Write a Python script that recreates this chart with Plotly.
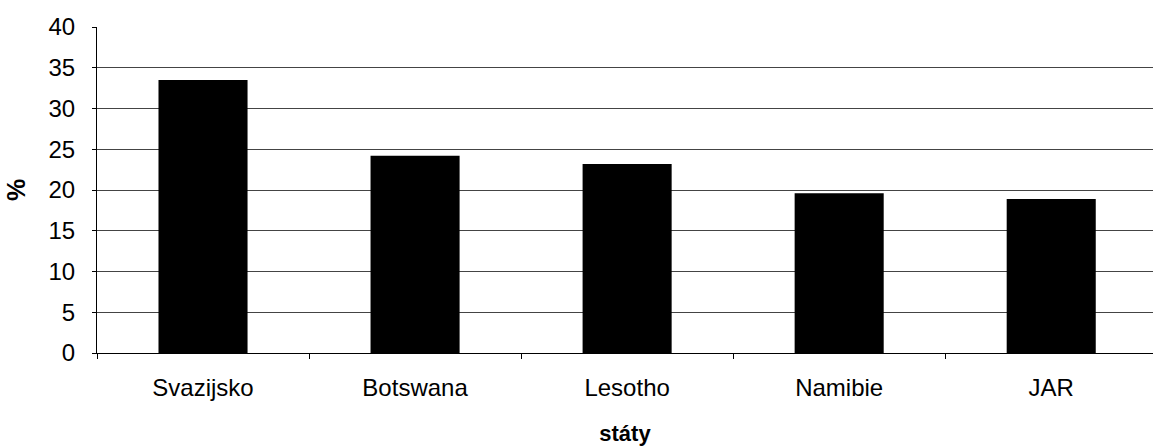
import plotly.graph_objects as go

categories = ["Svazijsko", "Botswana", "Lesotho", "Namibie", "JAR"]
values = [33.5, 24.2, 23.2, 19.6, 18.9]
y_ticks = [0, 5, 10, 15, 20, 25, 30, 35, 40]

fig = go.Figure(go.Bar(x=categories, y=values, marker=dict(color="black", line=dict(width=0))))

font = dict(family="Liberation Sans, Arial, sans-serif", size=24, color="black")

fig.update_layout(
    width=1153, height=447,
    margin=dict(l=97, r=0, t=27, b=94),
    paper_bgcolor="white", plot_bgcolor="white",
    bargap=0.58,
    font=font,
    showlegend=False,
    xaxis=dict(
        range=[-0.5, 4.48],
        showline=True, linecolor="black", linewidth=1,
        ticks="outside", tickson="boundaries", ticklen=5, tickcolor="black",
        showgrid=False,
        tickfont=dict(size=24),
        ticklabelstandoff=13,
        title=dict(text="<b>státy</b>", font=dict(size=22), standoff=25),
    ),
    yaxis=dict(
        range=[0, 40], tickvals=y_ticks,
        showline=True, linecolor="black", linewidth=1,
        ticks="outside", ticklen=4, tickcolor="black",
        showgrid=True, gridcolor="#444", gridwidth=1,
        zeroline=False,
        tickfont=dict(size=24),
        ticklabelstandoff=12,
        title=dict(text="<b>%</b>", font=dict(size=25), standoff=15),
    ),
)

fig.write_html("out.html")
